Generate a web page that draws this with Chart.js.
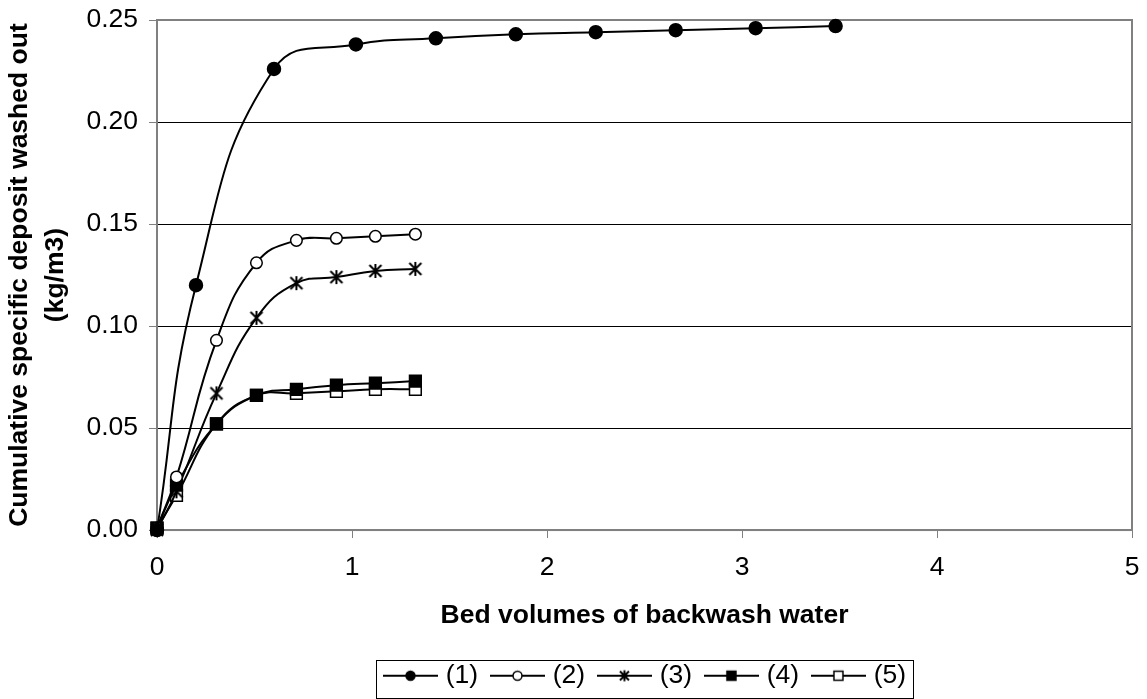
<!DOCTYPE html>
<html lang="en">
<head>
  <meta charset="UTF-8" />
  <title>Cumulative specific deposit washed out</title>
  <script src="https://cdn.jsdelivr.net/npm/chart.js@4.4.0/dist/chart.umd.min.js"></script>
  <style>
    html, body { margin: 0; padding: 0; background: #fff; }
    #wrap { position: relative; width: 1147px; height: 699px; }
  </style>
</head>
<body>
  <div id="wrap"><canvas id="chart"></canvas></div>

  <script>
    // bed volumes (x) and cumulative deposit (y)
    const x1 = [0, 0.2, 0.6, 1.02, 1.43, 1.84, 2.25, 2.66, 3.07, 3.48];
    const y1 = [0, 0.120, 0.226, 0.238, 0.241, 0.243, 0.244, 0.245, 0.246, 0.247];
    const xShort = [0, 0.1, 0.305, 0.51, 0.715, 0.92, 1.12, 1.325];
    const y2 = [0.001, 0.026, 0.093, 0.131, 0.142, 0.143, 0.144, 0.145];
    const y3 = [0, 0.019, 0.067, 0.104, 0.121, 0.124, 0.127, 0.128];
    const y4 = [0.001, 0.022, 0.052, 0.066, 0.069, 0.071, 0.072, 0.073];
    const y5 = [0.001, 0.017, 0.052, 0.066, 0.067, 0.068, 0.069, 0.069];
    const seriesNames = ['(1)', '(2)', '(3)', '(4)', '(5)'];
    const xTicks = [0, 1, 2, 3, 4, 5];
    const yTicks = [0, 0.05, 0.10, 0.15, 0.20, 0.25];

    const FONT = 'Arial, "Liberation Sans", sans-serif';
    const FS = 26.5;

    function toPoints(xs, ys) {
      return xs.map((x, i) => ({ x: x, y: ys[i] }));
    }

    // marker drawn on a small canvas (used for asterisk + legend symbols)
    function drawMarker(ctx, kind, cx, cy, s) {
      ctx.lineWidth = 1.5;
      ctx.strokeStyle = '#000';
      if (kind === 'dot' || kind === 'ring') {
        ctx.beginPath();
        ctx.arc(cx, cy, s, 0, Math.PI * 2);
        ctx.fillStyle = kind === 'dot' ? '#000' : '#fff';
        ctx.fill();
        ctx.stroke();
      } else if (kind === 'box' || kind === 'openbox') {
        ctx.fillStyle = kind === 'box' ? '#000' : '#fff';
        ctx.fillRect(cx - s, cy - s, 2 * s, 2 * s);
        ctx.strokeRect(cx - s, cy - s, 2 * s, 2 * s);
      } else if (kind === 'star') {
        ctx.lineWidth = 2;
        ctx.beginPath();
        ctx.moveTo(cx - s, cy - s); ctx.lineTo(cx + s, cy + s);
        ctx.moveTo(cx + s, cy - s); ctx.lineTo(cx - s, cy + s);
        ctx.moveTo(cx, cy - s - 1); ctx.lineTo(cx, cy + s + 1);
        ctx.stroke();
      }
    }

    function starImage() {
      const c = document.createElement('canvas');
      c.width = 18; c.height = 18;
      drawMarker(c.getContext('2d'), 'star', 9, 9, 6);
      return c;
    }

    function legendImage(kind) {
      const c = document.createElement('canvas');
      c.width = 55; c.height = 16;
      const ctx = c.getContext('2d');
      ctx.strokeStyle = '#000';
      ctx.lineWidth = 2;
      ctx.beginPath();
      ctx.moveTo(0, 8); ctx.lineTo(55, 8);
      ctx.stroke();
      drawMarker(ctx, kind, 27.5, 8, 4.5);
      return c;
    }

    const kinds = ['dot', 'ring', 'star', 'box', 'openbox'];
    const legendImgs = kinds.map(legendImage);

    function ds(label, xs, ys, style) {
      return Object.assign({
        label: label,
        data: toPoints(xs, ys),
        borderColor: '#000',
        borderWidth: 2,
        pointBorderColor: '#000',
        pointBorderWidth: 1.5,
        tension: 0.45,
        clip: false
      }, style);
    }

    const datasets = [
      ds(seriesNames[0], x1, y1, { pointStyle: 'circle', pointRadius: 6.5, pointBackgroundColor: '#000' }),
      ds(seriesNames[1], xShort, y2, { pointStyle: 'circle', pointRadius: 5.8, pointBackgroundColor: '#fff' }),
      ds(seriesNames[2], xShort, y3, { pointStyle: starImage() }),
      ds(seriesNames[3], xShort, y4, { pointStyle: 'rect', pointRadius: 8.3, pointBackgroundColor: '#000' }),
      ds(seriesNames[4], xShort, y5, { pointStyle: 'rect', pointRadius: 8.3, pointBackgroundColor: '#fff' })
    ];

    // gray frame around the plot area, legend centred under the plot, box round the legend
    const framePlugin = {
      id: 'frame',
      afterLayout(chart) {
        const lg = chart.legend, a = chart.chartArea;
        if (!lg) return;
        const shift = (a.left + a.right) / 2 + 2.75 - (lg.left + lg.right) / 2;
        lg.left += shift;
        lg.right += shift;
      },
      beforeDatasetsDraw(chart) {
        const a = chart.chartArea, ctx = chart.ctx;
        ctx.save();
        ctx.strokeStyle = '#808080';
        ctx.lineWidth = 2;
        ctx.strokeRect(a.left, a.top, a.right - a.left, a.bottom - a.top);
        ctx.restore();
      },
      afterDraw(chart) {
        const lg = chart.legend, ctx = chart.ctx;
        if (!lg || !lg.legendHitBoxes.length) return;
        const boxes = lg.legendHitBoxes;
        const last = boxes[boxes.length - 1];
        const l = Math.round(boxes[0].left - 12.5);
        const r = Math.round(last.left + last.width + 7);
        const t = Math.round(lg.top + 15);
        ctx.save();
        ctx.strokeStyle = '#000';
        ctx.lineWidth = 1;
        ctx.strokeRect(l + 0.5, t + 0.5, r - l, 698 - t);
        ctx.restore();
      }
    };

    new Chart(document.getElementById('chart'), {
      type: 'line',
      data: { datasets: datasets },
      plugins: [framePlugin],
      options: {
        responsive: true,
        maintainAspectRatio: false,
        animation: false,
        events: [],
        layout: { padding: { top: 20, right: 15, left: 0, bottom: 0 } },
        scales: {
          x: {
            type: 'linear',
            min: 0, max: 5,
            afterBuildTicks: axis => { axis.ticks = xTicks.map(v => ({ value: v })); },
            afterFit: axis => { axis.height = 115.1; axis.paddingLeft = 0; axis.paddingRight = 0; },
            grid: { drawOnChartArea: false, drawTicks: true, tickLength: 8, tickColor: '#808080' },
            border: { color: '#808080', width: 2 },
            ticks: { color: '#000', padding: 14, font: { family: FONT, size: FS } },
            title: {
              display: true,
              text: 'Bed volumes of backwash water',
              color: '#000',
              font: { family: FONT, size: FS, weight: 'bold' },
              padding: { top: 15, bottom: 14 }
            }
          },
          y: {
            type: 'linear',
            min: 0, max: 0.25,
            afterBuildTicks: axis => { axis.ticks = yTicks.map(v => ({ value: v })); },
            afterFit: axis => { axis.width = 157; axis.paddingTop = 0; axis.paddingBottom = 0; },
            grid: {
              color: ctx => (ctx.tick && ctx.tick.value === 0) ? 'rgba(0,0,0,0)' : '#000',
              lineWidth: 1,
              tickLength: 8,
              tickColor: '#808080'
            },
            border: { color: '#808080', width: 2 },
            ticks: {
              color: '#000', padding: 11,
              font: { family: FONT, size: FS },
              callback: v => v.toFixed(2)
            },
            title: {
              display: true,
              text: ['Cumulative specific deposit washed out', '(kg/m3)'],
              color: '#000',
              font: { family: FONT, size: FS, weight: 'bold', lineHeight: 1.36 },
              padding: { top: 2, bottom: 12 }
            }
          }
        },
        plugins: {
          legend: {
            position: 'bottom',
            labels: {
              color: '#000',
              font: { family: FONT, size: FS },
              usePointStyle: true,
              pointStyleWidth: 44,
              padding: 17.35,
              generateLabels: chart => chart.data.datasets.map((d, i) => ({
                text: d.label,
                pointStyle: legendImgs[i],
                fillStyle: '#000',
                strokeStyle: '#000',
                lineWidth: 0,
                datasetIndex: i,
                hidden: false
              }))
            }
          },
          tooltip: { enabled: false }
        }
      }
    });
  </script>
</body>
</html>
